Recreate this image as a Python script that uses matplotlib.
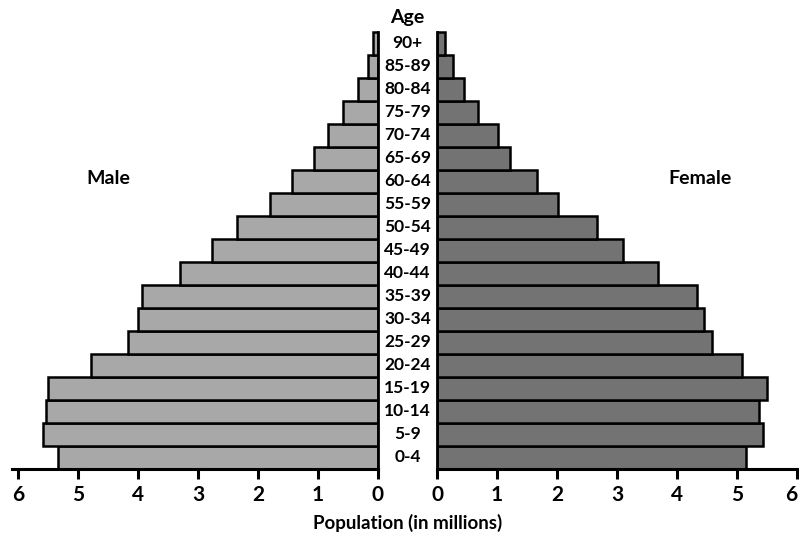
import matplotlib.pyplot as plt

# ------------------------------
# Data (population in millions)
# ------------------------------
ages = ['0-4', '5-9', '10-14', '15-19', '20-24', '25-29', '30-34', '35-39',
        '40-44', '45-49', '50-54', '55-59', '60-64', '65-69', '70-74',
        '75-79', '80-84', '85-89', '90+']
male = [5.33, 5.58, 5.53, 5.50, 4.78, 4.17, 4.00, 3.93, 3.30, 2.77,
        2.35, 1.80, 1.43, 1.06, 0.83, 0.58, 0.33, 0.17, 0.08]
female = [5.15, 5.43, 5.37, 5.50, 5.08, 4.58, 4.45, 4.33, 3.68, 3.10,
          2.67, 2.02, 1.67, 1.22, 1.02, 0.68, 0.45, 0.27, 0.13]
ticks = [0, 1, 2, 3, 4, 5, 6]

W, H = 799, 543
FONT = 'Lato'

fig = plt.figure(figsize=(W / 100, H / 100), dpi=100)

# ------------------------------
# Two half-axes (pixel layout, bottom spine at y=468.5 from top)
# ------------------------------
y_bot, y_top = 468.5, 31.5
ax_l = fig.add_axes([12 / W, (H - y_bot) / H, (378 - 12) / W, (y_bot - y_top) / H])
ax_r = fig.add_axes([437 / W, (H - y_bot) / H, 360 / W, (y_bot - y_top) / H])

pos = list(range(len(ages)))
ax_l.barh(pos, male, height=1.0, color='#a8a8a8', edgecolor='black', linewidth=1.8)
ax_r.barh(pos, female, height=1.0, color='#737373', edgecolor='black', linewidth=1.8)

ax_l.set_xlim(6.1, 0)
ax_r.set_xlim(0, 6)

for ax, side in [(ax_l, 'right'), (ax_r, 'left')]:
    ax.set_ylim(-0.5, 18.5)
    ax.set_yticks([])
    ax.set_xticks(ticks)
    ax.set_xticklabels([str(t) for t in ticks], fontsize=15, fontweight='bold', family=FONT)
    ax.tick_params(axis='x', direction='out', length=7, width=2.2, pad=5)
    for s in ['top', 'left', 'right']:
        ax.spines[s].set_visible(False)
    ax.spines['bottom'].set_linewidth(2.2)
    ax.spines[side].set_visible(True)
    ax.spines[side].set_linewidth(2.0)
    ax.patch.set_alpha(0)

# last label on the right sits at the figure edge
ax_r.get_xticklabels()[-1].set_horizontalalignment('right')

# ------------------------------
# Age labels between the halves
# ------------------------------
for i, a in enumerate(ages):
    yfig = (H - y_bot) / H + (i + 0.5) / 19 * (y_bot - y_top) / H
    fig.text(407.5 / W, yfig, a, ha='center', va='center', fontsize=12.5,
             fontweight='bold', family=FONT)

fig.text(407.5 / W, 1 - 18 / H, 'Age', ha='center', va='center', fontsize=14,
         fontweight='bold', family=FONT)
fig.text(108 / W, 1 - 178 / H, 'Male', ha='center', va='center', fontsize=14,
         fontweight='bold', family=FONT)
fig.text(700 / W, 1 - 178 / H, 'Female', ha='center', va='center', fontsize=14,
         fontweight='bold', family=FONT)
fig.text(407.5 / W, 1 - 523 / H, 'Population (in millions)', ha='center', va='center',
         fontsize=13.5, fontweight='bold', family=FONT)

plt.savefig('out.png', dpi=100)
